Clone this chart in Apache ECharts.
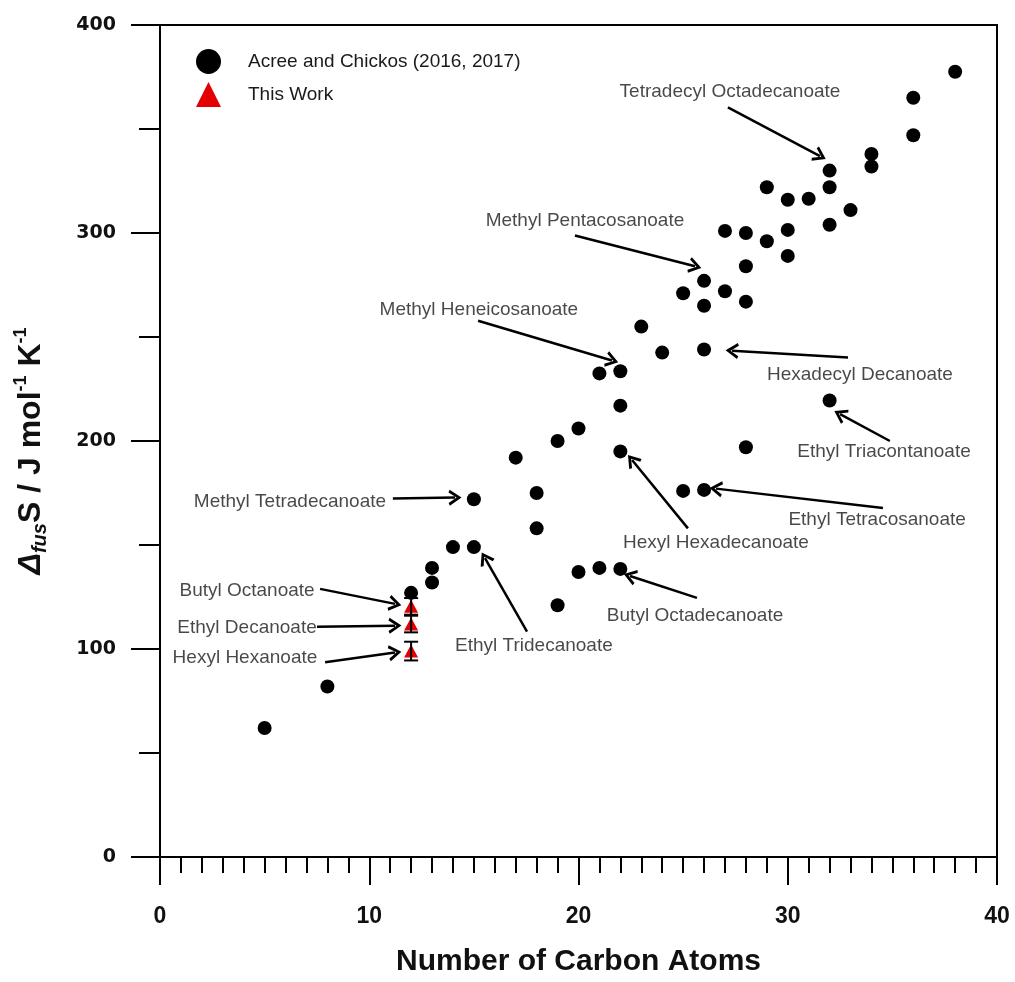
<!DOCTYPE html>
<html>
<head>
<meta charset="utf-8">
<script src="https://cdn.jsdelivr.net/npm/echarts@6/dist/echarts.min.js"></script>
<style>
html,body{margin:0;padding:0;background:#fff;}
#chart{width:1015px;height:982px;}
</style>
</head>
<body>
<div id="chart"></div>
<script>
// ---- Data ----
const carbonAtoms = [5,8,12,13,13,14,15,15,17,18,18,19,19,20,20,21,21,22,22,22,22,23,24,25,25,26,26,26,26,27,27,28,28,28,28,29,29,30,30,30,31,32,32,32,32,33,34,34,36,36,38];
const entropyLit  = [62,82,127,132,139,149,149,172,192,175,158,200,121,206,137,232.5,139,233.5,217,195,138.5,255,242.5,271,176,277,265,244,176.5,301,272,300,284,267,197,322,296,316,301.5,289,316.5,330,322,304,219.5,311,338,332,365,347,377.5];

const thisWorkCarbon = [12,12,12];
const thisWorkEntropy = [120.5,112,99];
const thisWorkError = [4,4,4.5];

const seriesNames = ['Acree and Chickos (2016, 2017)', 'This Work'];
const xTicks = [0,10,20,30,40];
const yTicks = [0,100,200,300,400];

// annotation labels: [text, label centre (data units), arrow start, arrow tip]
const annotationLabels = ['Tetradecyl Octadecanoate','Methyl Pentacosanoate','Methyl Heneicosanoate','Hexadecyl Decanoate','Ethyl Triacontanoate','Methyl Tetradecanoate','Hexyl Hexadecanoate','Ethyl Tetracosanoate','Ethyl Tridecanoate','Butyl Octadecanoate','Butyl Octanoate','Ethyl Decanoate','Hexyl Hexanoate'];
const annotationAt = [[27.24,368],[20.31,306],[15.24,263],[33.45,232],[34.6,194.7],[6.21,170.9],[26.57,151.3],[34.27,162.3],[17.87,101.7],[25.57,116],[4.16,127.9],[4.16,110.3],[4.06,95.9]];
const arrowFrom = [[27.14,360.4],[19.83,298.8],[15.2,257.8],[32.88,240.1],[34.88,200],[11.13,172.3],[25.23,158],[34.55,167.8],[17.54,108.4],[25.66,124.6],[7.65,128.9],[7.5,110.7],[7.89,93.6]];
const arrowTo   = [[31.54,337],[25.57,284],[21.6,238.7],[27.34,243.4],[32.5,212.9],[14.1,172.8],[22.56,190.9],[26.57,177.1],[15.53,143.7],[22.46,135.1],[11.23,121.7],[11.23,111.2],[11.23,98.3]];

// ---- Build ----
const litData = carbonAtoms.map((c,i)=>[c, entropyLit[i]]);
const workData = thisWorkCarbon.map((c,i)=>[c, thisWorkEntropy[i]]);
const errData = thisWorkCarbon.map((c,i)=>[c, thisWorkEntropy[i], thisWorkError[i]]);
const annoData = annotationLabels.map((t,i)=>({name:t, value:annotationAt[i]}));
const arrowHead = 'path://M0,12 L7,0 L14,12 L11.6,13.2 L7,5 L2.4,13.2 Z';
const arrowLines = arrowFrom.map((f,i)=>[{coord:f, symbol:'none'},{coord:arrowTo[i], symbol:arrowHead, symbolSize:[16,13]}]);

const chart = echarts.init(document.getElementById('chart'), null, {renderer:'canvas'});
const option = {
  backgroundColor:'#fff',
  animation:false,
  grid:{left:160, right:18, top:25, bottom:119, show:true, borderColor:'#000', borderWidth:2, backgroundColor:'transparent'},
  legend:{
    orient:'vertical', left:196, top:49, padding:0, itemWidth:25, itemHeight:25, itemGap:8,
    data:[{name:seriesNames[0], icon:'circle'},{name:seriesNames[1], icon:'triangle'}],
    textStyle:{fontFamily:'Liberation Sans', fontSize:19, color:'#1a1a1a', padding:[0,0,0,22]}
  },
  xAxis:{
    type:'value', min:xTicks[0], max:xTicks[xTicks.length-1], interval:10,
    name:'Number of Carbon Atoms', nameLocation:'middle', nameGap:90,
    nameTextStyle:{fontFamily:'Liberation Sans', fontWeight:'bold', fontSize:30, color:'#111'},
    axisLine:{show:true, onZero:false, lineStyle:{color:'#000', width:2}},
    axisTick:{show:true, inside:false, length:28, lineStyle:{color:'#000', width:2}},
    minorTick:{show:true, splitNumber:10, length:16, lineStyle:{color:'#000', width:2}},
    axisLabel:{margin:48, fontFamily:'Liberation Sans Narrow, Liberation Sans', fontWeight:'bold', fontSize:23, color:'#111'},
    splitLine:{show:false}, minorSplitLine:{show:false}
  },
  yAxis:{
    type:'value', min:yTicks[0], max:yTicks[yTicks.length-1], interval:100,
    name:'{d|Δ}{sub|fus}{b|S / J mol}{sup|-1}{b| K}{sup|-1}', nameLocation:'middle', nameGap:110,
    nameTextStyle:{
      color:'#111',
      padding:[0,20,0,0],
      rich:{
        d:{fontFamily:'Liberation Sans', fontWeight:'bold', fontStyle:'italic', fontSize:32, lineHeight:38, color:'#111'},
        b:{fontFamily:'Liberation Sans', fontWeight:'bold', fontSize:32, lineHeight:38, color:'#111'},
        sub:{fontFamily:'Liberation Sans', fontWeight:'bold', fontStyle:'italic', fontSize:20, lineHeight:19, verticalAlign:'bottom', color:'#111'},
        sup:{fontFamily:'Liberation Sans', fontWeight:'bold', fontSize:18, lineHeight:19, verticalAlign:'top', color:'#111'}
      }
    },
    axisLine:{show:true, onZero:false, lineStyle:{color:'#000', width:2}},
    axisTick:{show:true, inside:false, length:29, lineStyle:{color:'#000', width:2}},
    minorTick:{show:true, splitNumber:2, length:21, lineStyle:{color:'#000', width:2}},
    axisLabel:{margin:44, fontFamily:'DejaVu Sans', fontWeight:'bold', fontSize:19, color:'#111'},
    splitLine:{show:false}, minorSplitLine:{show:false}
  },
  series:[
    {
      name:seriesNames[0], type:'scatter', data:litData, symbol:'circle', symbolSize:14,
      itemStyle:{color:'#000', opacity:1}, z:3
    },
    {
      name:seriesNames[1], type:'scatter', data:workData, symbol:'triangle', symbolSize:[14,13],
      itemStyle:{color:'#e30000', opacity:1}, z:3
    },
    {
      name:'errors', type:'custom', data:errData, z:4, silent:true,
      renderItem:function(params, api){
        const x = api.value(0), y = api.value(1), e = api.value(2);
        const top = api.coord([x, y+e]);
        const bot = api.coord([x, y-e]);
        const hw = 7;
        const st = {stroke:'#000', lineWidth:2};
        return {type:'group', children:[
          {type:'line', shape:{x1:top[0], y1:top[1], x2:bot[0], y2:bot[1]}, style:st},
          {type:'line', shape:{x1:top[0]-hw, y1:top[1], x2:top[0]+hw, y2:top[1]}, style:st},
          {type:'line', shape:{x1:bot[0]-hw, y1:bot[1], x2:bot[0]+hw, y2:bot[1]}, style:st}
        ]};
      }
    },
    {
      name:'annotations', type:'scatter', data:annoData, symbol:'circle', symbolSize:1,
      itemStyle:{color:'rgba(0,0,0,0)'}, silent:true, z:5,
      label:{show:true, position:'inside', formatter:'{b}', fontFamily:'Liberation Sans', fontSize:19, color:'#1a1a1a'},
      markLine:{
        silent:true, symbol:['none','none'], animation:false,
        lineStyle:{color:'#000', width:2.5, type:'solid'},
        label:{show:false},
        emphasis:{disabled:true},
        data:arrowLines
      }
    }
  ]
};
chart.setOption(option);
</script>
</body>
</html>
